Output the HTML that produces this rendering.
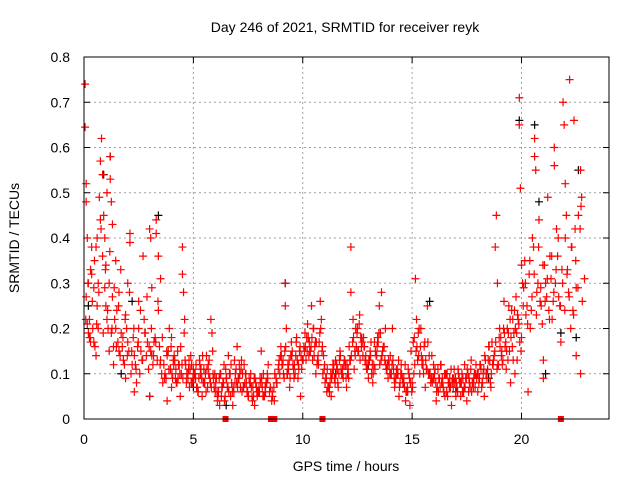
<!DOCTYPE html>
<html><head><meta charset="utf-8"><style>
body{margin:0;background:#fff}
svg{display:block;font-family:"Liberation Sans",sans-serif}
</style></head><body>
<svg id="c" width="640" height="480"></svg>
<script>
const redT=[0.05,0.05,0.1,0.1,0.15,0.1,0.2,0.2,0.25,0.3,0.3,0.35,0.4,0.45,0.5,0.55,0.6,0.6,0.65,0.7,0.75,0.8,0.85,0.9,0.95,1.0,1.0,1.05,1.1,1.15,1.2,1.2,1.25,1.3,1.3,1.35,1.4,1.45,1.5,1.6,1.6,1.7,1.8,1.9,1.9,2.0,2.0,2.1,2.1,2.2,2.3,2.3,2.4,2.5,2.5,2.6,2.7,2.8,2.9,3.0,3.0,3.05,3.1,3.1,3.2,3.3,3.3,3.4,3.4,3.5,3.5,3.6,3.7,3.8,3.8,3.9,4.0,4.0,4.1,4.2,4.3,4.4,4.5,4.5,4.55,4.6,4.7,4.8,4.9,5.0,5.1,5.2,5.3,5.4,5.5,5.6,5.7,5.8,5.85,5.9,6.0,6.1,6.2,6.3,6.4,6.5,6.6,6.7,6.8,6.9,7.0,7.1,7.2,7.3,7.4,7.5,7.6,7.7,7.8,7.9,8.0,8.1,8.2,8.3,8.4,8.6,8.7,8.8,8.9,9.0,9.1,9.2,9.2,9.25,9.3,9.4,9.5,9.6,9.7,9.8,9.9,10.0,10.1,10.2,10.3,10.4,10.5,10.6,10.7,10.8,10.85,10.9,11.0,11.1,11.2,11.3,11.4,11.5,11.6,11.7,11.8,11.9,12.0,12.1,12.2,12.2,12.3,12.4,12.5,12.6,12.7,12.8,12.9,13.0,13.1,13.2,13.3,13.4,13.5,13.6,13.7,13.8,13.9,14.0,14.1,14.2,14.3,14.4,14.5,14.6,14.7,14.8,14.9,15.0,15.1,15.15,15.2,15.3,15.4,15.5,15.6,15.7,15.8,15.9,16.0,16.1,16.2,16.3,16.4,16.5,16.6,16.7,16.8,16.9,17.0,17.1,17.2,17.3,17.4,17.5,17.6,17.7,17.8,17.9,18.0,18.1,18.2,18.3,18.4,18.5,18.6,18.7,18.8,18.85,18.9,19.0,19.1,19.2,19.3,19.4,19.5,19.6,19.7,19.8,19.9,19.9,19.95,20.0,20.0,20.1,20.2,20.3,20.4,20.5,20.6,20.6,20.65,20.7,20.8,20.9,21.0,21.0,21.1,21.2,21.3,21.4,21.5,21.5,21.6,21.7,21.8,21.9,21.95,22.0,22.0,22.1,22.2,22.25,22.3,22.4,22.5,22.5,22.6,22.7,22.75,22.7,
0.15,0.25,0.35,0.45,0.55,0.65,0.75,0.85,0.95,1.05,1.15,1.25,1.35,1.45,1.55,1.65,1.75,1.85,1.95,2.05,2.15,2.25,2.35,2.45,2.55,2.65,2.75,2.85,2.95,3.05,3.15,3.25,3.35,3.45,3.55,3.65,3.75,3.85,3.95,4.05,4.15,4.25,4.35,4.45,4.65,4.75,4.85,4.95,5.05,5.15,5.25,5.35,5.45,5.55,5.65,5.75,5.95,6.05,6.15,6.25,6.35,6.45,6.55,6.65,6.75,6.85,6.95,7.05,7.15,7.25,7.35,7.45,7.55,7.65,7.75,7.85,7.95,8.05,8.15,8.25,8.35,8.95,9.05,9.15,9.35,9.45,9.55,9.65,9.75,9.85,9.95,10.05,10.15,10.25,10.35,10.45,10.55,10.65,10.75,10.95,11.05,11.15,11.25,11.35,11.45,11.55,11.65,11.75,11.85,11.95,12.05,12.15,12.35,12.45,12.55,12.65,12.75,12.85,12.95,13.05,13.15,13.25,13.35,13.45,13.55,13.65,13.75,13.85,13.95,14.05,14.15,14.25,14.35,14.45,14.55,14.65,14.75,14.85,14.95,15.05,15.25,15.35,15.45,15.55,15.65,15.75,15.85,15.95,16.05,16.15,16.25,16.35,16.45,16.55,16.65,16.75,16.85,16.95,17.05,17.15,17.25,17.35,17.45,17.55,17.65,17.75,17.85,17.95,18.05,18.15,18.25,18.35,18.45,18.55,18.65,18.75,18.95,19.05,19.15,19.25,19.35,19.45,19.55,19.65,19.75,19.85,20.05,20.15,20.25,20.35,20.45,20.55,20.75,20.85,20.95,21.05,21.15,21.25,21.35,21.45,21.55,21.65,21.75,21.85,22.05,22.15,22.35,22.45,22.55,22.65];
const redV=[0.74,0.645,0.48,0.52,0.4,0.27,0.3,0.19,0.22,0.17,0.33,0.38,0.2,0.29,0.16,0.38,0.4,0.25,0.2,0.49,0.57,0.62,0.54,0.45,0.4,0.34,0.25,0.5,0.2,0.3,0.58,0.53,0.48,0.43,0.27,0.16,0.22,0.35,0.24,0.15,0.28,0.19,0.13,0.09,0.23,0.3,0.17,0.41,0.39,0.12,0.14,0.06,0.08,0.26,0.2,0.15,0.36,0.19,0.17,0.05,0.42,0.4,0.29,0.14,0.17,0.44,0.41,0.36,0.24,0.13,0.31,0.08,0.1,0.04,0.14,0.2,0.18,0.07,0.12,0.11,0.09,0.05,0.38,0.32,0.28,0.22,0.1,0.13,0.08,0.11,0.09,0.06,0.12,0.05,0.08,0.14,0.1,0.22,0.19,0.1,0.06,0.04,0.03,0.07,0.12,0.09,0.14,0.05,0.03,0.08,0.16,0.12,0.13,0.07,0.1,0.05,0.08,0.04,0.03,0.06,0.07,0.15,0.1,0.06,0.09,0.06,0.04,0.08,0.12,0.16,0.13,0.3,0.25,0.2,0.1,0.07,0.14,0.09,0.17,0.12,0.05,0.13,0.19,0.15,0.17,0.25,0.2,0.1,0.14,0.26,0.22,0.16,0.12,0.06,0.07,0.05,0.11,0.13,0.08,0.15,0.1,0.13,0.07,0.09,0.38,0.28,0.22,0.14,0.2,0.23,0.18,0.16,0.12,0.09,0.14,0.08,0.11,0.16,0.25,0.28,0.16,0.12,0.09,0.14,0.2,0.07,0.1,0.05,0.12,0.08,0.04,0.06,0.03,0.08,0.18,0.31,0.22,0.14,0.2,0.12,0.07,0.25,0.1,0.14,0.09,0.04,0.06,0.12,0.08,0.05,0.1,0.07,0.03,0.09,0.05,0.11,0.08,0.06,0.12,0.04,0.09,0.13,0.07,0.1,0.06,0.12,0.08,0.05,0.1,0.16,0.07,0.12,0.38,0.45,0.3,0.2,0.15,0.26,0.11,0.19,0.08,0.22,0.1,0.13,0.71,0.65,0.51,0.18,0.34,0.29,0.23,0.06,0.2,0.4,0.62,0.58,0.55,0.28,0.44,0.25,0.13,0.09,0.3,0.49,0.36,0.22,0.56,0.6,0.42,0.27,0.17,0.7,0.65,0.4,0.52,0.33,0.75,0.2,0.38,0.66,0.29,0.14,0.45,0.55,0.49,0.1,
0.21,0.18,0.32,0.17,0.14,0.3,0.44,0.36,0.29,0.22,0.15,0.19,0.12,0.2,0.17,0.14,0.16,0.12,0.2,0.15,0.1,0.18,0.12,0.16,0.1,0.13,0.22,0.14,0.11,0.15,0.12,0.18,0.13,0.16,0.1,0.12,0.09,0.15,0.11,0.09,0.13,0.08,0.12,0.1,0.12,0.09,0.11,0.08,0.1,0.07,0.09,0.11,0.08,0.1,0.07,0.09,0.07,0.09,0.06,0.1,0.08,0.05,0.07,0.1,0.08,0.06,0.11,0.09,0.07,0.1,0.08,0.06,0.09,0.07,0.05,0.08,0.06,0.09,0.07,0.05,0.08,0.1,0.12,0.09,0.11,0.14,0.12,0.1,0.13,0.15,0.11,0.16,0.13,0.18,0.15,0.13,0.16,0.12,0.17,0.14,0.09,0.07,0.08,0.1,0.09,0.12,0.1,0.11,0.09,0.12,0.1,0.13,0.11,0.16,0.15,0.18,0.14,0.13,0.11,0.13,0.1,0.12,0.14,0.17,0.19,0.15,0.13,0.11,0.12,0.1,0.11,0.09,0.1,0.08,0.09,0.07,0.06,0.1,0.15,0.17,0.13,0.1,0.12,0.16,0.11,0.1,0.08,0.09,0.11,0.07,0.09,0.08,0.06,0.1,0.08,0.07,0.09,0.08,0.07,0.09,0.08,0.06,0.09,0.1,0.07,0.08,0.1,0.09,0.08,0.11,0.1,0.13,0.11,0.13,0.17,0.14,0.12,0.18,0.13,0.16,0.2,0.15,0.24,0.19,0.27,0.22,0.3,0.35,0.25,0.32,0.24,0.38,0.3,0.26,0.21,0.34,0.27,0.24,0.31,0.26,0.3,0.36,0.25,0.33,0.45,0.28,0.24,0.42];
const redT2=[0.08,0.18,0.28,0.38,0.48,0.58,0.68,0.78,0.88,0.98,1.08,1.18,1.28,1.38,1.48,1.58,1.68,1.78,1.88,1.98,2.08,2.18,2.28,2.38,2.48,2.58,2.68,2.78,2.88,2.98,3.08,3.18,3.28,3.38,3.48,3.58,3.68,3.78,3.88,3.98,4.08,4.18,4.28,4.38,4.48,4.58,4.68,4.78,4.88,4.98,5.08,5.18,5.28,5.38,5.48,5.58,5.68,5.78,5.88,5.98,6.08,6.18,6.28,6.38,6.48,6.58,6.68,6.78,6.88,6.98,7.08,7.18,7.28,7.38,7.48,7.58,7.68,7.78,7.88,7.98,8.08,8.18,8.28,8.38,8.48,8.58,8.68,8.78,8.88,8.98,9.08,9.18,9.28,9.38,9.48,9.58,9.68,9.78,9.88,9.98,10.08,10.18,10.28,10.38,10.48,10.58,10.68,10.78,10.88,10.98,11.08,11.18,11.28,11.38,11.48,11.58,11.68,11.78,11.88,11.98,12.08,12.18,12.28,12.38,12.48,12.58,12.68,12.78,12.88,12.98,13.08,13.18,13.28,13.38,13.48,13.58,13.68,13.78,13.88,13.98,14.08,14.18,14.28,14.38,14.48,14.58,14.68,14.78,14.88,14.98,15.08,15.18,15.28,15.38,15.48,15.58,15.68,15.78,15.88,15.98,16.08,16.18,16.28,16.38,16.48,16.58,16.68,16.78,16.88,16.98,17.08,17.18,17.28,17.38,17.48,17.58,17.68,17.78,17.88,17.98,18.08,18.18,18.28,18.38,18.48,18.58,18.68,18.78,18.88,18.98,19.08,19.18,19.28,19.38,19.48,19.58,19.68,19.78,19.88,19.98,20.08,20.18,20.28,20.38,20.48,20.58,20.68,20.78,20.88,20.98,21.08,21.18,21.28,21.38,21.48,21.58,21.68,21.78,21.88,21.98,22.08,22.18,22.28,22.38,22.48,22.58,22.68,22.78,22.88,22.72];
const redV2=[0.22,0.3,0.18,0.26,0.35,0.21,0.28,0.42,0.19,0.33,0.24,0.37,0.2,0.29,0.16,0.25,0.33,0.18,0.22,0.14,0.28,0.15,0.2,0.11,0.17,0.24,0.13,0.19,0.27,0.16,0.2,0.14,0.17,0.26,0.12,0.18,0.09,0.15,0.11,0.16,0.13,0.09,0.15,0.1,0.12,0.19,0.08,0.11,0.14,0.09,0.1,0.07,0.13,0.09,0.11,0.06,0.12,0.08,0.15,0.1,0.06,0.09,0.05,0.08,0.11,0.07,0.1,0.06,0.13,0.08,0.09,0.11,0.07,0.1,0.06,0.08,0.05,0.09,0.07,0.06,0.08,0.05,0.07,0.1,0.06,0.04,0.07,0.09,0.11,0.14,0.12,0.15,0.1,0.13,0.17,0.11,0.14,0.09,0.16,0.13,0.15,0.18,0.14,0.16,0.2,0.17,0.13,0.19,0.15,0.11,0.09,0.07,0.1,0.12,0.08,0.11,0.13,0.1,0.12,0.09,0.11,0.13,0.17,0.15,0.19,0.21,0.16,0.18,0.14,0.12,0.15,0.12,0.17,0.14,0.19,0.13,0.16,0.2,0.12,0.1,0.12,0.09,0.11,0.13,0.1,0.08,0.12,0.07,0.09,0.06,0.1,0.15,0.19,0.16,0.13,0.17,0.11,0.14,0.09,0.12,0.08,0.11,0.07,0.09,0.1,0.06,0.08,0.11,0.07,0.09,0.06,0.08,0.1,0.07,0.09,0.06,0.11,0.08,0.07,0.1,0.09,0.07,0.11,0.1,0.13,0.08,0.12,0.15,0.11,0.18,0.14,0.2,0.17,0.13,0.22,0.16,0.24,0.19,0.21,0.15,0.25,0.3,0.21,0.35,0.27,0.32,0.23,0.38,0.29,0.34,0.26,0.31,0.22,0.36,0.28,0.33,0.4,0.25,0.3,0.24,0.32,0.27,0.38,0.23,0.35,0.29,0.42,0.26,0.31,0.47];
const redT3=[4.02,4.12,4.22,4.32,4.42,4.52,4.62,4.72,4.82,4.92,5.02,5.12,5.22,5.32,5.42,5.52,5.62,5.72,5.82,5.92,6.02,6.12,6.22,6.32,6.42,6.52,6.62,6.72,6.82,6.92,7.02,7.12,7.22,7.32,7.42,7.52,7.62,7.72,7.82,7.92,8.02,8.12,8.22,8.32,8.42,8.52,8.62,8.72,8.82,8.92,9.02,9.12,9.22,9.32,9.42,9.52,9.62,9.72,9.82,9.92,10.02,10.12,10.22,10.32,10.42,10.52,10.62,10.72,10.82,10.92,11.02,11.12,11.22,11.32,11.42,11.52,11.62,11.72,11.82,11.92,12.02,12.12,12.22,12.32,12.42,12.52,12.62,12.72,12.82,12.92,13.02,13.12,13.22,13.32,13.42,13.52,13.62,13.72,13.82,13.92,14.02,14.12,14.22,14.32,14.42,14.52,14.62,14.72,14.82,14.92,15.02,15.12,15.22,15.32,15.42,15.52,15.62,15.72,15.82,15.92,16.02,16.12,16.22,16.32,16.42,16.52,16.62,16.72,16.82,16.92,17.02,17.12,17.22,17.32,17.42,17.52,17.62,17.72,17.82,17.92,18.02,18.12,18.22,18.32,18.42,18.52,18.62,18.72,18.82,18.92,19.02,19.12,19.22,19.32,19.42,19.52,19.62,19.72,19.82,19.92];
const redV3=[0.1,0.14,0.08,0.12,0.16,0.09,0.13,0.1,0.07,0.12,0.09,0.12,0.06,0.1,0.14,0.08,0.11,0.13,0.07,0.09,0.08,0.05,0.1,0.07,0.04,0.09,0.06,0.12,0.07,0.1,0.07,0.1,0.06,0.12,0.08,0.05,0.1,0.07,0.09,0.05,0.06,0.09,0.05,0.08,0.12,0.07,0.05,0.1,0.08,0.13,0.14,0.1,0.16,0.12,0.09,0.15,0.12,0.18,0.11,0.14,0.13,0.16,0.21,0.15,0.18,0.14,0.17,0.12,0.2,0.1,0.08,0.11,0.06,0.09,0.12,0.1,0.07,0.14,0.11,0.13,0.12,0.16,0.14,0.18,0.2,0.15,0.13,0.17,0.16,0.11,0.13,0.17,0.1,0.15,0.18,0.12,0.14,0.16,0.11,0.13,0.1,0.13,0.08,0.11,0.07,0.1,0.09,0.06,0.11,0.08,0.07,0.12,0.16,0.2,0.14,0.1,0.13,0.17,0.1,0.08,0.1,0.06,0.09,0.12,0.07,0.1,0.05,0.09,0.08,0.11,0.08,0.1,0.05,0.09,0.07,0.11,0.08,0.06,0.09,0.12,0.1,0.12,0.08,0.14,0.09,0.16,0.1,0.13,0.17,0.12,0.16,0.12,0.19,0.15,0.25,0.18,0.13,0.2,0.23,0.17];
const blackT=[0.2,0.9,1.2,1.7,3.4,3.0,6.5,9.2,13.0,15.8,17.0,19.9,20.6,20.8,21.1,21.8,22.5,22.6,2.2,5.0,11.5,18.5];
const blackV=[0.25,0.54,0.58,0.1,0.45,0.05,0.03,0.3,0.12,0.26,0.06,0.66,0.65,0.48,0.1,0.19,0.18,0.55,0.26,0.07,0.1,0.09];
const squareT=[6.47,8.55,8.7,10.9,21.8];
const xTicks=[0,5,10,15,20];
const yTicks=[0,0.1,0.2,0.3,0.4,0.5,0.6,0.7,0.8];
const yTickLabels=["0","0.1","0.2","0.3","0.4","0.5","0.6","0.7","0.8"];

const NS="http://www.w3.org/2000/svg";
const svg=document.getElementById('c');
const L=84,R=609,T=57,B=419;
const sx=t=>L+(t/24)*(R-L);
const sy=v=>B-(v/0.8)*(B-T);
function mk(tag,attrs,parent){const e=document.createElementNS(NS,tag);for(const k in attrs)e.setAttribute(k,attrs[k]);(parent||svg).appendChild(e);return e;}

const grid=mk('g',{});


yTicks.forEach((v,i)=>{
  if(i>0&&i<yTicks.length-1){mk('line',{x1:L,x2:R,y1:sy(v),y2:sy(v),stroke:'#a0a0a0','stroke-dasharray':'2,3','stroke-width':1},grid);}
  mk('line',{x1:L,x2:L+6,y1:sy(v),y2:sy(v),stroke:'#000'});
  mk('line',{x1:R,x2:R-6,y1:sy(v),y2:sy(v),stroke:'#000'});
  const t=mk('text',{x:L-14,y:sy(v)+5,'text-anchor':'end','font-size':14});
  t.textContent=yTickLabels[i];
  
  
});
xTicks.forEach(v=>{
  if(v>0){mk('line',{x1:sx(v),x2:sx(v),y1:T,y2:B,stroke:'#a0a0a0','stroke-dasharray':'2,3','stroke-width':1},grid);}
  mk('line',{x1:sx(v),x2:sx(v),y1:B,y2:B-6,stroke:'#000'});
  mk('line',{x1:sx(v),x2:sx(v),y1:T,y2:T+6,stroke:'#000'});
  const t=mk('text',{x:sx(v),y:B+25,'text-anchor':'middle','font-size':14});
  t.textContent=String(v);
  
  
});

function crosses(ts,vs,color,name){
  const g=mk('g',{stroke:color,'stroke-width':1.2});
  
  
  let d='';
  ts.forEach((t,i)=>{const x=sx(t),y=sy(vs[i]);d+=`M${x-4},${y}h8M${x},${y-4}v8`;});
  mk('path',{d:d,fill:'none'},g);
}
crosses(blackT,blackV,'#000','series-black');
crosses(redT,redV,'#f00','series-red');
crosses(redT2,redV2,'#f00','series-red-2');
crosses(redT3,redV3,'#f00','series-red-3');

const sq=mk('g',{fill:'#f00'});


squareT.forEach(t=>{mk('rect',{x:sx(t)-3,y:B-3,width:6,height:6},sq);});

const frame=mk('rect',{x:L,y:T,width:R-L,height:B-T,fill:'none',stroke:'#000','stroke-width':1});



const title=mk('text',{x:345,y:32,'text-anchor':'middle','font-size':14});
title.textContent='Day 246 of 2021, SRMTID for receiver reyk';


const xl=mk('text',{x:346,y:471,'text-anchor':'middle','font-size':14});
xl.textContent='GPS time / hours';


const yl=mk('text',{x:0,y:0,'text-anchor':'middle','font-size':14,transform:'translate(19,238) rotate(-90)'});
yl.textContent='SRMTID / TECUs';


</script>
</body></html>
